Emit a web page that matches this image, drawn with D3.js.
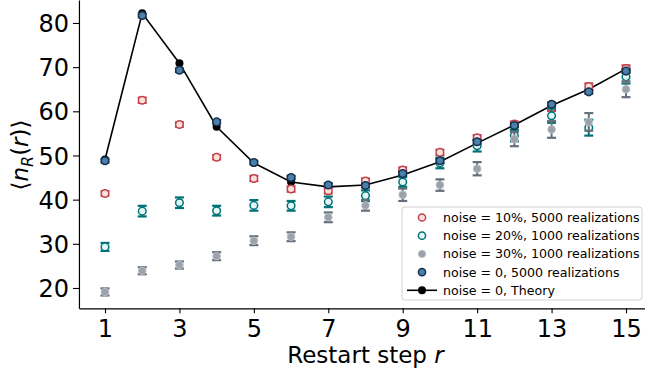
<!DOCTYPE html>
<html>
<head>
<meta charset="utf-8">
<script src="https://cdn.jsdelivr.net/npm/d3@7"></script>
<style>
  html, body { margin: 0; padding: 0; background: #fff; }
  svg { display: block; font-family: "DejaVu Sans", sans-serif; }
</style>
</head>
<body>
<svg id="chart" width="645" height="379"></svg>
<script>
// Restart steps r
const steps = [1, 2, 3, 4, 5, 6, 7, 8, 9, 10, 11, 12, 13, 14, 15];
const xTicks = [1, 3, 5, 7, 9, 11, 13, 15];
const yTicks = [20, 30, 40, 50, 60, 70, 80];

// Theory curve, noise = 0
const theory = [49.1, 82.2, 70.9, 56.5, 48.3, 44.0, 42.9, 43.3, 45.6, 48.6, 52.8, 56.9, 61.3, 65.0, 69.6];

// Simulations: mean and error
const noise0 = [48.8, 81.7, 69.3, 57.6, 48.4, 45.0, 43.3, 43.2, 45.9, 48.8, 53.1, 56.8, 61.6, 64.4, 69.1];
const noise0Err = [0.4, 0.4, 0.4, 0.4, 0.4, 0.4, 0.4, 0.4, 0.4, 0.4, 0.4, 0.4, 0.4, 0.4, 0.4];

const noise10 = [41.4, 62.5, 57.0, 49.6, 44.8, 42.4, 42.0, 44.2, 46.7, 50.7, 54.0, 57.1, 60.8, 65.6, 69.7];
const noise10Err = [0.5, 0.6, 0.5, 0.5, 0.6, 0.6, 0.6, 0.6, 0.6, 0.6, 0.6, 0.6, 0.7, 0.7, 0.7];

const noise20 = [29.3, 37.4, 39.3, 37.5, 38.7, 38.6, 39.5, 40.9, 44.0, 48.3, 52.2, 54.5, 59.0, 56.3, 67.8];
const noise20Err = [0.9, 1.2, 1.2, 1.1, 1.2, 1.1, 1.2, 1.2, 1.1, 1.2, 1.3, 1.3, 1.6, 1.8, 1.5];

const noise30 = [19.1, 23.9, 25.2, 27.2, 30.7, 31.6, 36.0, 38.7, 41.1, 43.3, 47.0, 53.7, 55.9, 57.6, 65.0];
const noise30Err = [0.8, 0.8, 0.8, 0.9, 1.0, 1.0, 1.1, 1.2, 1.4, 1.3, 1.5, 1.6, 1.9, 2.0, 1.8];

const legendLabels = [
  "noise = 10%, 5000 realizations",
  "noise = 20%, 1000 realizations",
  "noise = 30%, 1000 realizations",
  "noise = 0, 5000 realizations",
  "noise = 0, Theory"
];

const svg = d3.select("#chart");

const x = d3.scaleLinear().domain([0.3, 15.7]).range([78.95, 652.05]);
const y = d3.scaleLinear().domain([15.4, 85.2]).range([308.3, 0]);

// Axes
const xAxis = svg.append("g")
  .attr("transform", `translate(0,${y(15.4)})`)
  .call(d3.axisBottom(x).tickValues(xTicks).tickSize(5).tickPadding(6).tickSizeOuter(0));
const yAxis = svg.append("g")
  .attr("transform", `translate(${x(0.3)},0)`)
  .call(d3.axisLeft(y).tickValues(yTicks).tickSize(6).tickPadding(4).tickSizeOuter(0));

[xAxis, yAxis].forEach(g => {
  g.select(".domain").attr("stroke", "#000").attr("stroke-width", 1.2);
  g.selectAll(".tick line").attr("stroke", "#000").attr("stroke-width", 1.1);
  g.selectAll(".tick text")
    .attr("fill", "#000")
    .style("font-family", "DejaVu Sans")
    .style("font-size", "24px");
});
xAxis.selectAll(".tick text").attr("dy", "0.72em");
yAxis.selectAll(".tick text").attr("dy", "0.36em");

// Axis labels
svg.append("text")
  .attr("x", (x(0.3) + x(15.7)) / 2)
  .attr("y", 363)
  .attr("text-anchor", "middle")
  .style("font-size", "23px")
  .call(t => {
    t.append("tspan").text("Restart step ");
    t.append("tspan").attr("font-style", "italic").text("r");
  });

svg.append("text")
  .attr("transform", "translate(28,155) rotate(-90)")
  .attr("text-anchor", "middle")
  .style("font-size", "23px")
  .call(t => {
    t.append("tspan").text("\u27E8");
    t.append("tspan").attr("font-style", "italic").text("n");
    t.append("tspan").attr("font-style", "italic").attr("font-size", "16px").attr("dy", 5).text("R");
    t.append("tspan").attr("dy", -5).text("(");
    t.append("tspan").attr("font-style", "italic").text("r");
    t.append("tspan").text(")\u27E9");
  });

// Theory line with markers
const line = d3.line().x((d, i) => x(steps[i])).y(d => y(d));
svg.append("path")
  .datum(theory)
  .attr("d", line)
  .attr("fill", "none")
  .attr("stroke", "#000")
  .attr("stroke-width", 1.6);
svg.append("g").selectAll("circle")
  .data(theory)
  .join("circle")
  .attr("cx", (d, i) => x(steps[i]))
  .attr("cy", d => y(d))
  .attr("r", 4)
  .attr("fill", "#000");

// Error-bar series
const series = [
  { vals: noise10, err: noise10Err, fill: "#fbe1d8", stroke: "#c2404c", bar: "#c2404c", sw: 1.5 },
  { vals: noise20, err: noise20Err, fill: "#e2f7f6", stroke: "#007277", bar: "#007277", sw: 1.5 },
  { vals: noise30, err: noise30Err, fill: "#9ba2ab", stroke: "#b7bdc4", bar: "#66707b", sw: 1.0 },
  { vals: noise0, err: noise0Err, fill: "#4b80aa", stroke: "#15314f", bar: "#15314f", sw: 1.5 }
];

series.forEach(s => {
  const g = svg.append("g");
  const pts = s.vals.map((v, i) => ({ r: steps[i], v, e: s.err[i] }));
  const cap = 4.5;
  g.selectAll("line.stem").data(pts).join("line")
    .attr("x1", d => x(d.r)).attr("x2", d => x(d.r))
    .attr("y1", d => y(d.v - d.e)).attr("y2", d => y(d.v + d.e))
    .attr("stroke", s.bar).attr("stroke-width", 2);
  ["lo", "hi"].forEach(k => {
    g.selectAll("line.cap" + k).data(pts).join("line")
      .attr("x1", d => x(d.r) - cap).attr("x2", d => x(d.r) + cap)
      .attr("y1", d => y(k === "lo" ? d.v - d.e : d.v + d.e))
      .attr("y2", d => y(k === "lo" ? d.v - d.e : d.v + d.e))
      .attr("stroke", s.bar).attr("stroke-width", 2.2);
  });
  g.selectAll("circle").data(pts).join("circle")
    .attr("cx", d => x(d.r)).attr("cy", d => y(d.v))
    .attr("r", 3.8)
    .attr("fill", s.fill).attr("stroke", s.stroke).attr("stroke-width", s.sw);
});

// Legend
const lg = svg.append("g");
lg.append("rect")
  .attr("x", 402).attr("y", 207).attr("width", 240).attr("height", 93)
  .attr("rx", 3).attr("ry", 3)
  .attr("fill", "rgba(255,255,255,0.8)")
  .attr("stroke", "#d0d0d0").attr("stroke-width", 1);
const rowY = d3.range(5).map(i => 217.5 + i * 18.2);
legendLabels.forEach((lab, i) => {
  const cy = rowY[i];
  if (i < 4) {
    const s = series[i];
    lg.append("circle").attr("cx", 422).attr("cy", cy).attr("r", 3.6)
      .attr("fill", s.fill).attr("stroke", s.stroke).attr("stroke-width", s.sw);
  } else {
    lg.append("line").attr("x1", 407).attr("x2", 437).attr("y1", cy).attr("y2", cy)
      .attr("stroke", "#000").attr("stroke-width", 1.6);
    lg.append("circle").attr("cx", 422).attr("cy", cy).attr("r", 4).attr("fill", "#000");
  }
  lg.append("text")
    .attr("x", 443).attr("y", cy).attr("dy", "0.36em")
    .style("font-size", "12.6px").attr("fill", "#000")
    .text(lab);
});
</script>
</body>
</html>
